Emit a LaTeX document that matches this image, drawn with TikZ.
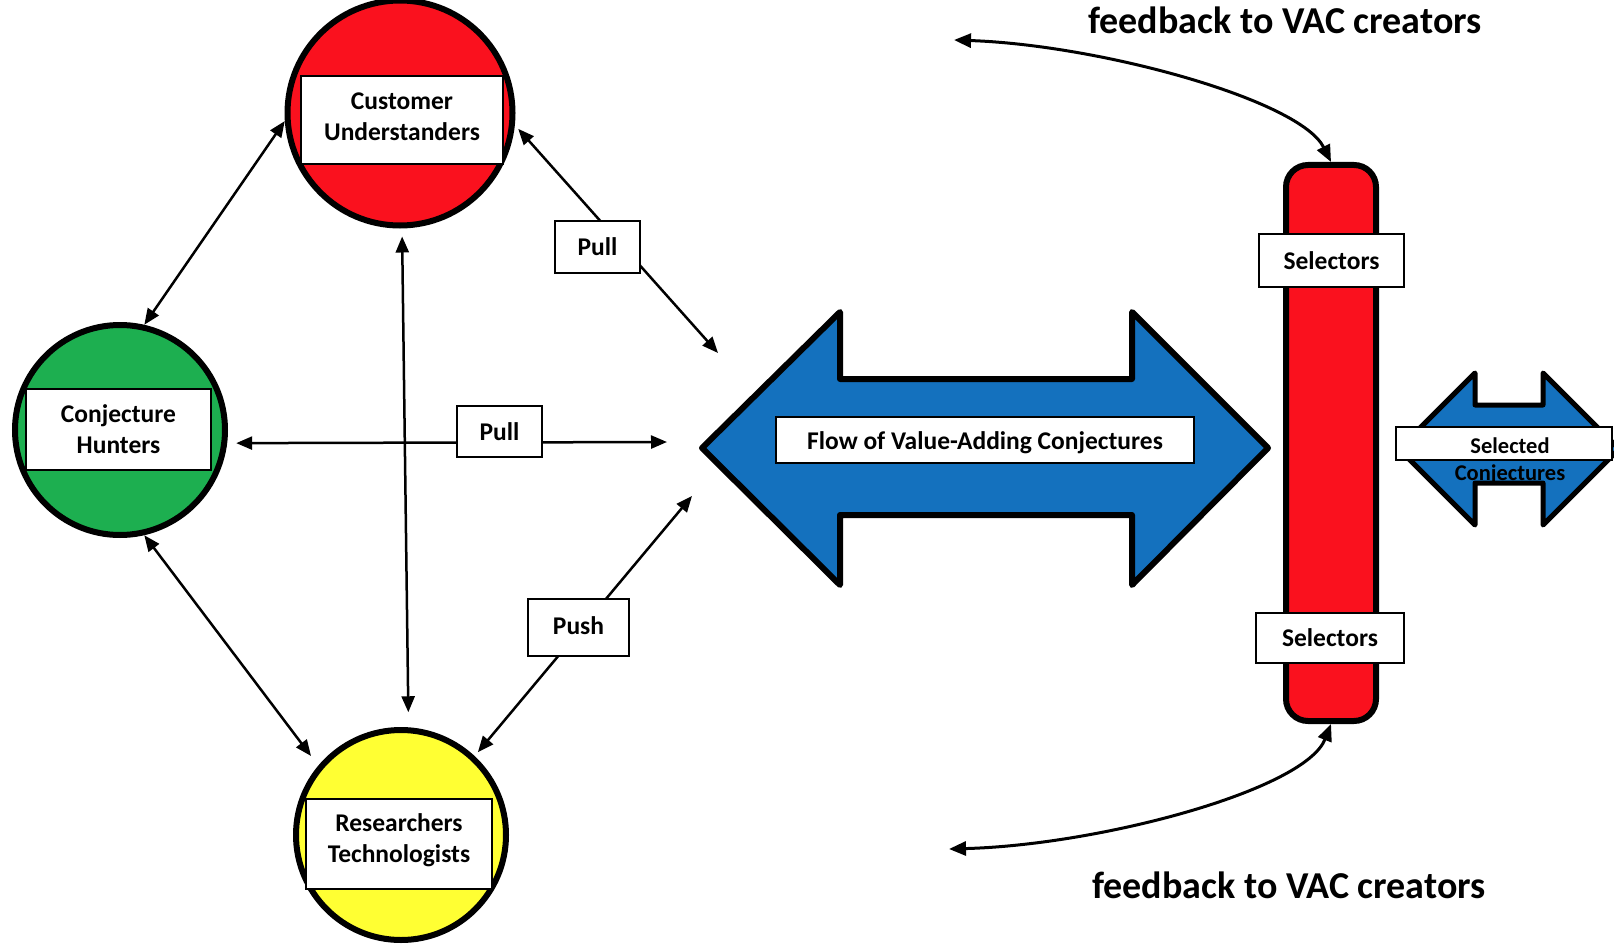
\documentclass[tikz,border=0pt]{standalone}
\usepackage{fontspec}
\setmainfont{Carlito}
\usetikzlibrary{arrows.meta}
\definecolor{cured}{RGB}{250,17,30}
\definecolor{hugreen}{RGB}{29,175,80}
\definecolor{reyellow}{RGB}{255,255,51}
\definecolor{flowblue}{RGB}{20,113,190}
\tikzset{
  role/.style={circle, draw=black, line width=6pt, inner sep=0pt, minimum size=#1},
  lbl/.style={draw=black, line width=1.8pt, fill=white, inner sep=0pt, align=center,
              font=\fontsize{25.5}{31}\selectfont\bfseries},
  link/.style={line width=2.5pt, {Triangle[length=16pt,width=13pt]}-{Triangle[length=16pt,width=13pt]}},
  fb/.style={line width=3pt, {Triangle[length=17pt,width=14pt]}-{Triangle[length=17pt,width=14pt]}},
  bigarrow/.style={draw=black, fill=flowblue, line width=6pt, line join=round},
  fbtext/.style={font=\fontsize{38}{42}\selectfont\bfseries, inner sep=0pt, anchor=base},
}
\begin{document}
\begin{tikzpicture}[x=1pt,y=-1pt]
\useasboundingbox (0,0) rectangle (1614,944);
\clip (0,0) rectangle (1614,944);

% double-headed flow arrow
\draw[bigarrow] (702,448) -- (840,312) -- (840,379) -- (1132,379) -- (1132,312)
  -- (1268,448) -- (1132,585) -- (1132,515) -- (840,515) -- (840,585) -- cycle;
% small outgoing arrow of selected conjectures
\draw[bigarrow, line width=5pt] (1399,449) -- (1475,373) -- (1475,405) -- (1543,405) -- (1543,373)
  -- (1619,449) -- (1543,525) -- (1543,483) -- (1475,483) -- (1475,525) -- cycle;

% selectors bar
\node[draw=black, fill=cured, line width=6pt, rounded corners=22pt, inner sep=0pt,
      minimum width=90pt, minimum height=556pt] (bar) at (1331,443) {};

% the three roles
\node[role=225pt, fill=cured] (cust) at (400,113) {};
\node[role=210pt, fill=hugreen] (hunt) at (120,430) {};
\node[role=210pt, fill=reyellow] (res) at (401,835) {};
\node[lbl, minimum width=202pt, minimum height=88pt] (custlbl) at (402,120) {};
\node[lbl, draw=none, fill=none] at (402,117) {Customer\\Understanders};
\node[lbl, minimum width=185pt, minimum height=81pt] (huntlbl) at (118.5,429.5) {Conjecture\\Hunters};
\node[lbl, minimum width=186pt, minimum height=90pt] (reslbl) at (399,844) {};
\node[lbl, draw=none, fill=none] at (399,840) {Researchers\\Technologists};

% free ends pointing at the flow
\coordinate (pullAend) at (718,353);
\coordinate (pullBend) at (667,442);
\coordinate (pushend) at (692,496);

% links between roles
\draw[link] (cust.184) -- (hunt.77);
\draw[link, shorten >=12pt] (hunt.283) -- (res.140.6);
\draw[link, shorten <=8pt, shorten >=15pt] (cust.271) -- (res.86);
\draw[link, shorten <=5pt] (cust.354) -- (pullAend);
\draw[link, shorten <=9pt] (hunt.353) -- (pullBend);
\draw[link, shorten <=5pt] (res.47) -- (pushend);

\node[lbl, minimum width=85pt, minimum height=52pt] (pullA) at (597.5,247) {Pull};
\node[lbl, minimum width=85pt, minimum height=51pt] (pullB) at (499.5,431.5) {Pull};
\node[lbl, minimum width=101pt, minimum height=57pt, text depth=4pt] (push) at (578.5,627.5) {Push};

% labels on the flow and the selectors
\node[lbl, minimum width=418pt, minimum height=46pt] (flow) at (985,440) {};
\node[lbl, draw=none, fill=none] at (985,443) {Flow of Value-Adding Conjectures};
\node[lbl, minimum width=145pt, minimum height=53pt] (selA) at (1331.5,260.5) {Selectors};
\node[lbl, minimum width=148pt, minimum height=50pt] (selB) at (1330,638) {Selectors};
\node[lbl, minimum width=216pt, minimum height=33pt] (selbox) at (1504,443.5) {};
\node[font=\fontsize{22.5}{27}\selectfont\bfseries, align=center, inner sep=0pt] (seltext) at (1510,461) {Selected\\Conjectures};

% feedback loops
\coordinate (fbtopend) at (954,40);
\coordinate (fbbotend) at (949,849);
\draw[fb] (fbtopend) .. controls (1100,45) and (1300,100) .. (bar.north);
\draw[fb] (fbbotend) .. controls (1100,845) and (1305,790) .. (bar.south);
\node[fbtext] (fbtop) at (1285,34) {feedback to VAC creators};
\node[fbtext] (fbbot) at (1289,898) {feedback to VAC creators};
\end{tikzpicture}
\end{document}
